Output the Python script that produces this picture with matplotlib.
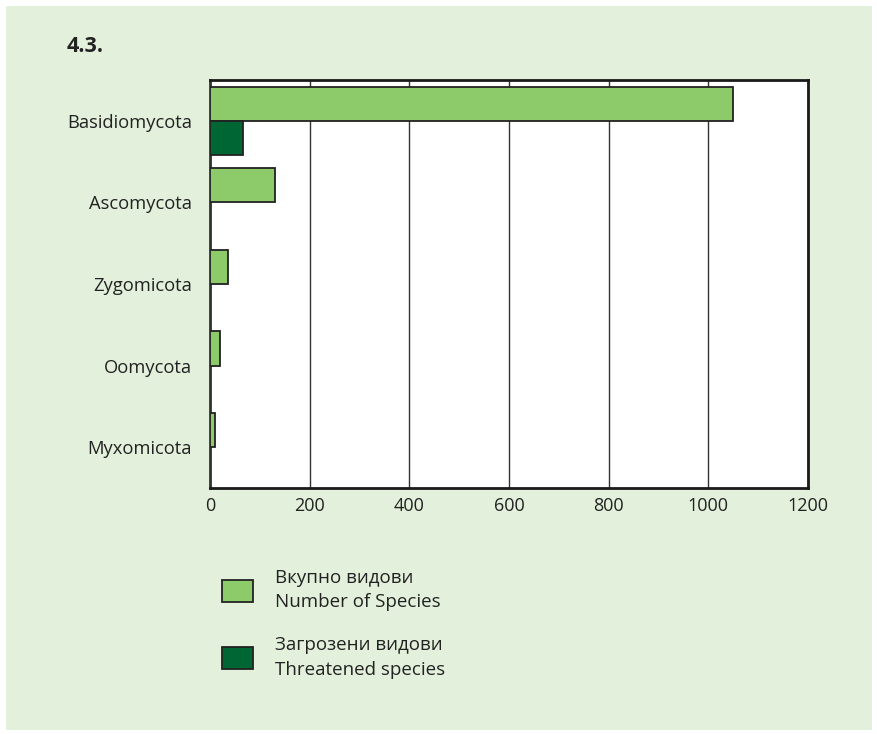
import matplotlib.pyplot as plt
from matplotlib.patches import Rectangle
import numpy as np

plt.rcParams['font.family'] = ['Open Sans', 'DejaVu Sans']

groups = ["Basidiomycota", "Ascomycota", "Zygomicota", "Oomycota", "Myxomicota"]
total_species = [1050, 130, 36, 21, 11]
threatened = [67, 0, 0, 0, 0]
labels = ["Вкупно видови\nNumber of Species", "Загрозени видови\nThreatened species"]
xticks = [0, 200, 400, 600, 800, 1000, 1200]

bg = "#e3f0dc"
light = "#8cca6a"
dark = "#006633"
edge = "#222222"

fig = plt.figure(figsize=(8.78, 7.34), dpi=100)
fig.patch.set_facecolor("white")
fig.patches.append(Rectangle((6 / 878, 4 / 734), 866 / 878, 724 / 734,
                             transform=fig.transFigure, facecolor=bg,
                             edgecolor="none", zorder=-10))

ax = fig.add_axes([210 / 878, 1 - 488 / 734, 598 / 878, 408 / 734])
ax.set_facecolor("white")

y = np.arange(len(groups))
h = 0.42
b1 = ax.barh(y - h / 2, total_species, height=h, color=light, edgecolor=edge,
             linewidth=1.3, label=labels[0], zorder=3)
b2 = ax.barh(y + h / 2, threatened, height=h, color=dark, edgecolor=edge,
             linewidth=1.3, label=labels[1], zorder=3)
# hide zero-width threatened bars
for rect, v in zip(b2, threatened):
    if v == 0:
        rect.set_visible(False)

ax.set_xlim(0, 1200)
ax.set_ylim(len(groups) - 0.5, -0.5)
ax.set_xticks(xticks)
ax.set_xticklabels([str(t) for t in xticks], fontsize=13, color="#222222")
ax.set_yticks(y)
ax.set_yticklabels(groups, fontsize=13.2, color="#222222")
ax.tick_params(axis="x", length=0, pad=6.5)
ax.tick_params(axis="y", length=0, pad=13)
ax.grid(axis="x", color="#333333", linewidth=1.0, zorder=1)
for s in ax.spines.values():
    s.set_linewidth(2)
    s.set_color("#1a1a1a")
ax.spines["left"].set_color("#333333")

fig.text(67 / 878, 1 - 46 / 734, "4.3.", fontsize=15.5, fontweight="bold",
         color="#222222", va="center", ha="left")

leg = fig.legend(handles=[b1, b2], labels=labels, loc="upper left",
                 bbox_to_anchor=(222 / 878, 1 - 569 / 734), frameon=False,
                 fontsize=13.5, handlelength=1.65, handleheight=1.42,
                 handletextpad=1.17, labelspacing=1.33, borderpad=0,
                 borderaxespad=0)
for t in leg.get_texts():
    t.set_linespacing(1.45)
    t.set_color("#222222")

fig.savefig("out.png", dpi=100, facecolor=fig.get_facecolor())
